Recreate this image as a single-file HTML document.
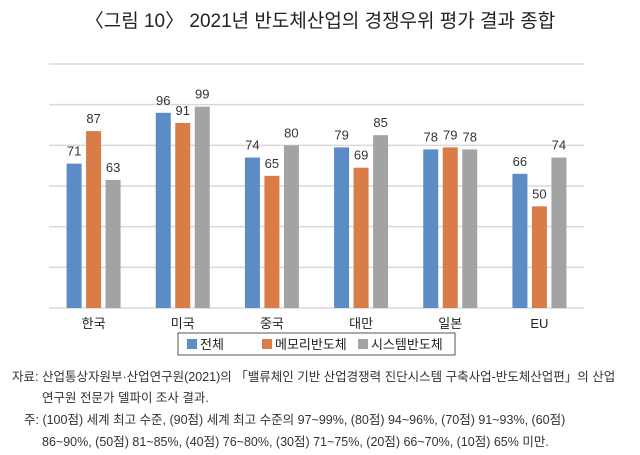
<!DOCTYPE html>
<html><head><meta charset="utf-8"><style>
body{margin:0;background:#fff;width:640px;height:455px;overflow:hidden;font-family:"Liberation Sans","Noto Sans CJK KR",sans-serif;}
#title{position:absolute;left:0;width:640px;top:6px;text-align:center;font-size:19px;color:#222;}
.note{position:absolute;font-size:12.5px;color:#333;white-space:nowrap;}
</style></head><body>
<div id="title">〈그림 10〉 2021년 반도체산업의 경쟁우위 평가 결과 종합</div>
<svg id="chart" width="640" height="360" style="position:absolute;left:0;top:0"></svg>
<div class="note" style="left:12px;top:366px">자료: 산업통상자원부·산업연구원(2021)의 「밸류체인 기반 산업경쟁력 진단시스템 구축사업-반도체산업편」의 산업</div>
<div class="note" style="left:42px;top:387px">연구원 전문가 델파이 조사 결과.</div>
<div class="note" style="left:24px;top:409px">주: (100점) 세계 최고 수준, (90점) 세계 최고 수준의 97~99%, (80점) 94~96%, (70점) 91~93%, (60점)</div>
<div class="note" style="left:42px;top:431px">86~90%, (50점) 81~85%, (40점) 76~80%, (30점) 71~75%, (20점) 66~70%, (10점) 65% 미만.</div>
<script>
const categories=["한국","미국","중국","대만","일본","EU"];
const seriesNames=["전체","메모리반도체","시스템반도체"];
const total=[71,96,74,79,78,66];
const memory=[87,91,65,69,79,50];
const system=[63,99,80,85,78,74];
const gridTicks=[0,20,40,60,80,100,120];
const colors=["#5b8cc5","#d97c48","#a3a3a3"];
const NS="http://www.w3.org/2000/svg";
const svg=document.getElementById('chart');
const x0=49,x1=584,yBase=308,yTop=64,maxV=120;
const y=v=>yBase-(v/maxV)*(yBase-yTop);
const gw=(x1-x0)/categories.length;
const cx=i=>x0+gw*(i+0.5);
function mk(t,a){const e=document.createElementNS(NS,t);for(const k in a)e.setAttribute(k,a[k]);svg.appendChild(e);return e;}
gridTicks.forEach(t=>{const l=mk('line',{x1:x0,x2:x1,y1:y(t),y2:y(t),stroke:'#d9d9d9','stroke-width':1.5});

});
const series=[total,memory,system];
const bw=15,st=19.5;
series.forEach((s,si)=>{s.forEach((v,i)=>{
const bx=cx(i)+(si-1)*st-bw/2;
const r=mk('rect',{x:bx,y:y(v),width:bw,height:yBase-y(v),fill:colors[si]});


const t=mk('text',{x:bx+bw/2,y:y(v)-8,'text-anchor':'middle','font-size':13,fill:'#333'});t.textContent=v;


});});
categories.forEach((c,i)=>{const t=mk('text',{x:cx(i),y:328,'text-anchor':'middle','font-size':13,fill:'#222'});t.textContent=c;

});
const lg=mk('rect',{x:178,y:333,width:277,height:22,fill:'#fff',stroke:'#555','stroke-width':1});


const lx=[187,262,358];
seriesNames.forEach((n,i)=>{const r=mk('rect',{x:lx[i],y:339,width:10,height:10,fill:colors[i]});


const t=mk('text',{x:lx[i]+13,y:349,'font-size':13,fill:'#222'});t.textContent=n;

});
</script>
</body></html>
